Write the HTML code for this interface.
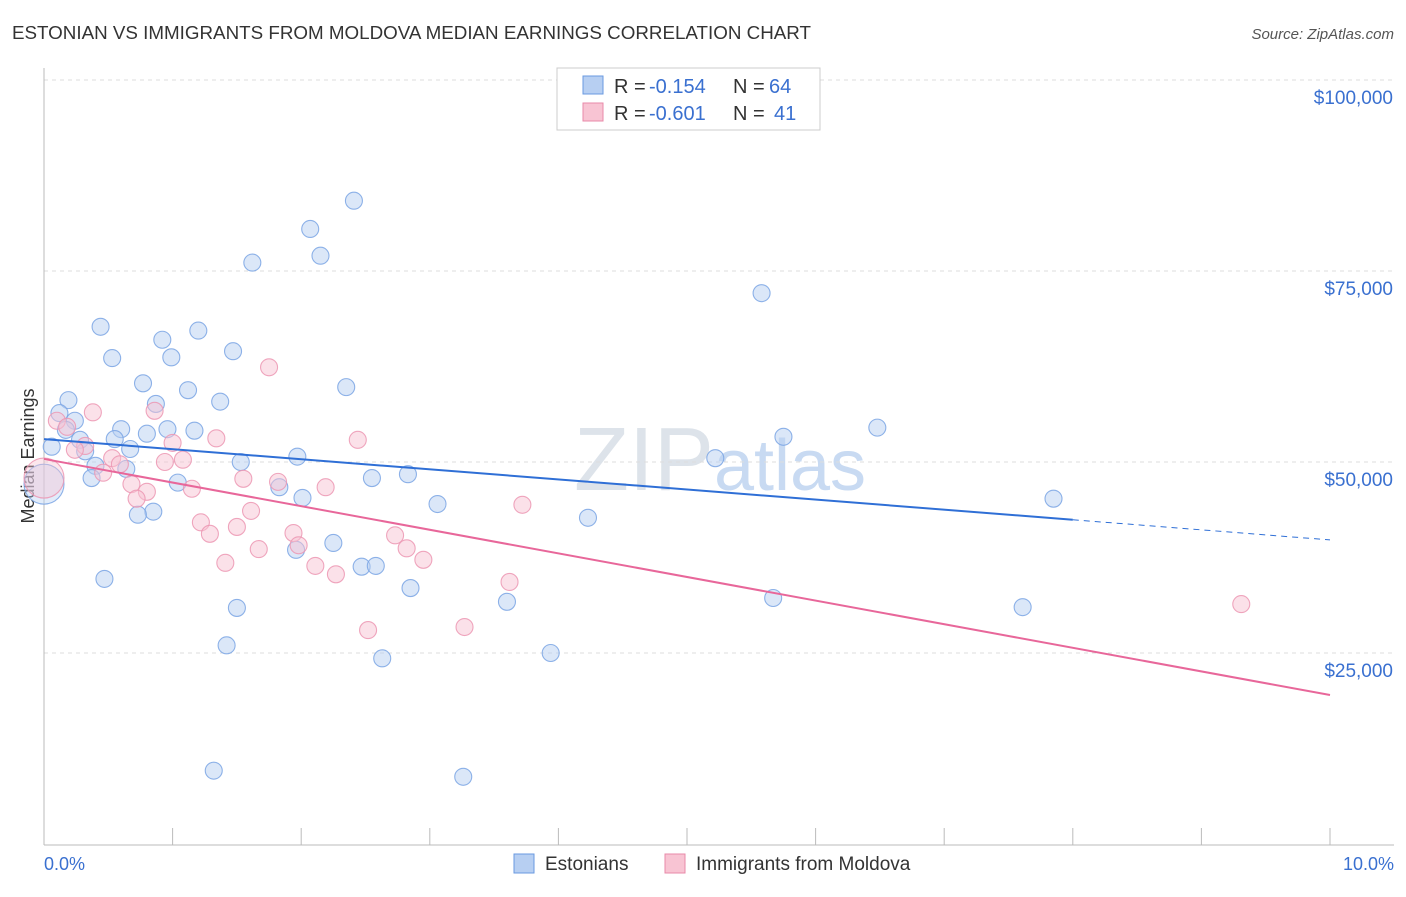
<!DOCTYPE html>
<html><head><meta charset="utf-8"><style>
body{margin:0;background:#fff;font-family:"Liberation Sans",sans-serif}
svg text{font-family:"Liberation Sans",sans-serif}
</style></head><body>
<svg id="c" width="1406" height="892" xmlns="http://www.w3.org/2000/svg">
<text x="12" y="39" font-size="18.8" fill="#333">ESTONIAN VS IMMIGRANTS FROM MOLDOVA MEDIAN EARNINGS CORRELATION CHART</text>
<text x="1394" y="39" font-size="15" fill="#555" text-anchor="end" font-style="italic">Source: ZipAtlas.com</text>
<text x="34" y="456" font-size="18" fill="#333" text-anchor="middle" transform="rotate(-90 34 456)">Median Earnings</text>
<text x="720" y="490" font-size="90" fill="#dde3ea" text-anchor="middle" font-family="Liberation Serif">ZIP<tspan fill="#c8daf2" font-family="Liberation Sans" font-size="72">atlas</tspan></text>
<g id="grid"></g><g id="pts"></g><g id="lines"></g>
<text x="44" y="870" font-size="18" fill="#3a70d0">0.0%</text>
<text x="1394" y="870" font-size="18" fill="#3a70d0" text-anchor="end">10.0%</text>
<g>
<rect x="557" y="68" width="263" height="62" fill="#fff" stroke="#ccc"/>
<rect x="583" y="76" width="20" height="18" fill="#b7cff2" stroke="#6a9ae0"/>
<rect x="583" y="103" width="20" height="18" fill="#f8c4d3" stroke="#e88aa8"/>
<text x="614" y="93" font-size="20" fill="#333">R =</text>
<text x="649" y="93" font-size="20" fill="#3a70d0">-0.154</text>
<text x="733" y="93" font-size="20" fill="#333">N =</text>
<text x="769" y="93" font-size="20" fill="#3a70d0">64</text>
<text x="614" y="120" font-size="20" fill="#333">R =</text>
<text x="649" y="120" font-size="20" fill="#3a70d0">-0.601</text>
<text x="733" y="120" font-size="20" fill="#333">N =</text>
<text x="774" y="120" font-size="20" fill="#3a70d0">41</text>
</g>
<g>
<rect x="514" y="854" width="20" height="19" fill="#b7cff2" stroke="#6a9ae0"/>
<text x="545" y="870" font-size="19" fill="#333">Estonians</text>
<rect x="665" y="854" width="20" height="19" fill="#f8c4d3" stroke="#e88aa8"/>
<text x="696" y="870" font-size="19" fill="#333">Immigrants from Moldova</text>
</g>
</svg>
<script>
const blueX=[4.09,2.41,2.07,2.15,1.62,5.58,0.44,1.20,0.92,0.53,0.99,1.47,0.77,2.35,1.12,0.19,1.37,0.87,0.12,0.24,0.60,1.17,0.96,0.80,0.17,0.55,5.75,6.48,0.28,0.06,0.67,0.32,1.97,5.22,1.53,0.40,0.64,2.83,2.55,0.37,1.04,1.83,2.01,7.85,3.06,0.85,0.73,4.23,2.25,1.96,2.47,2.58,0.47,2.85,3.60,5.67,7.61,1.50,1.42,3.94,2.63,1.32,3.26,0.0];
const blueY=[94.9,84.2,80.5,77.0,76.1,72.1,67.7,67.2,66.0,63.6,63.7,64.5,60.3,59.8,59.4,58.1,57.9,57.6,56.4,55.4,54.3,54.1,54.3,53.7,54.2,53.0,53.3,54.5,52.9,52.0,51.7,51.4,50.7,50.5,50.0,49.5,49.1,48.4,47.9,47.9,47.3,46.7,45.3,45.2,44.5,43.5,43.1,42.7,39.4,38.5,36.3,36.4,34.7,33.5,31.7,32.2,31.0,30.9,26.0,25.0,24.3,9.6,8.8,47.1];
const pinkX=[1.75,0.38,0.86,0.10,0.18,1.34,2.44,1.00,0.32,0.24,0.53,1.08,0.94,0.59,0.46,1.55,1.82,0.68,2.19,1.15,0.80,0.72,3.72,1.61,1.22,1.50,1.29,2.73,1.94,1.98,1.67,2.82,2.95,1.41,2.11,2.27,3.62,9.31,2.52,3.27,0.0];
const pinkY=[62.4,56.5,56.7,55.4,54.6,53.1,52.9,52.5,52.1,51.6,50.5,50.3,50.0,49.7,48.6,47.8,47.4,47.1,46.7,46.5,46.1,45.2,44.4,43.6,42.1,41.5,40.6,40.4,40.7,39.1,38.6,38.7,37.2,36.8,36.4,35.3,34.3,31.4,28.0,28.4,47.9];
const yTicks=[25,50,75,100];
const yTickLabels=["$25,000","$50,000","$75,000","$100,000"];
const xTicks=[0,1,2,3,4,5,6,7,8,9,10];
const blueTrend=[53.0,39.8], pinkTrend=[50.4,19.5];
const X=v=>44+v*128.6, Y=v=>844-v*7.64;
const NS="http://www.w3.org/2000/svg";
function mk(t,a,p){const e=document.createElementNS(NS,t);for(const k in a)e.setAttribute(k,a[k]);p.appendChild(e);return e;}
const g=document.getElementById('grid');
yTicks.forEach((t,i)=>{
 const l=mk('line',{x1:44,x2:1394,y1:Y(t),y2:Y(t),stroke:'#ddd','stroke-dasharray':'4,4'},g);
 
 
 const tx=mk('text',{x:1393,y:Y(t)+24,'font-size':19,fill:'#3a70d0','text-anchor':'end'},g);
 tx.textContent=yTickLabels[i];
 
 
});
const ax=mk('line',{x1:44,x2:1394,y1:845,y2:845,stroke:'#bbb'},g);


const ay=mk('line',{x1:44,x2:44,y1:68,y2:845,stroke:'#bbb'},g);


xTicks.forEach(t=>{
 const l=mk('line',{x1:X(t),x2:X(t),y1:828,y2:845,stroke:'#bbb'},g);
 
 
});
const p=document.getElementById('pts');
function dots(xs,ys,fill,stroke,name){
 xs.forEach((x,i)=>{
  const big=i===xs.length-1;
  const c=mk('circle',{cx:X(x),cy:Y(ys[i]),r:big?20:8.5,fill:fill,'fill-opacity':big?0.4:0.5,stroke:stroke,'stroke-width':1.1,'stroke-opacity':0.85},p);
  
  
 });
}
dots(blueX,blueY,'#b7cff2','#7aa5e4','estonian-point');
dots(pinkX,pinkY,'#f8c4d3','#ec97b3','moldova-point');
const L=document.getElementById('lines');
const bAt=x=>blueTrend[0]+(blueTrend[1]-blueTrend[0])*x/10;
const bl=mk('line',{x1:X(0),y1:Y(bAt(0)),x2:X(8),y2:Y(bAt(8)),stroke:'#2f6fd6','stroke-width':2},L);


const bd=mk('line',{x1:X(8),y1:Y(bAt(8)),x2:X(10),y2:Y(bAt(10)),stroke:'#2f6fd6','stroke-width':1,'stroke-dasharray':'6,5'},L);


const pl=mk('line',{x1:X(0),y1:Y(pinkTrend[0]),x2:X(10),y2:Y(pinkTrend[1]),stroke:'#e8679a','stroke-width':2},L);


</script>
</body></html>
